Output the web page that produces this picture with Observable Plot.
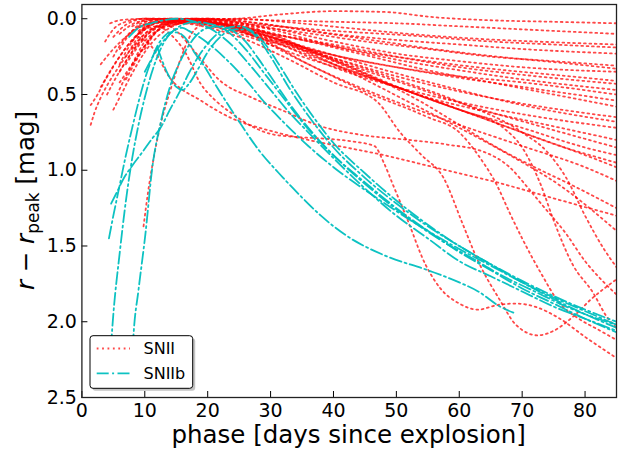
<!DOCTYPE html>
<html><head><meta charset="utf-8">
<script src="https://cdn.jsdelivr.net/npm/d3@7"></script>
<script src="https://cdn.jsdelivr.net/npm/@observablehq/plot@0.6"></script>
<style>body{margin:0;background:#fff;} #chart{width:628px;height:459px;}</style>
</head><body><div id="chart"></div>
<script>
const xTicks = [0, 10, 20, 30, 40, 50, 60, 70, 80];
const yTicks = [0, 0.5, 1, 1.5, 2, 2.5];
const legendLabels = ["SNII", "SNIIb"];

// SNII light curves: [phase, r - r_peak]
const snII = [
  [[8,0.3],[10,0.15],[13,0.06],[18,0.02],[25,0.0],[32,-0.03],[40,-0.05],[48,-0.045],[56,-0.01],[65,0.01],[75,0.02],[85,0.03]],
  [[4.5,0.03],[6,0.01],[10,0],[20,0],[30,0.01],[40,0.02],[50,0.03],[60,0.05],[70,0.07],[85,0.1]],
  [[3.7,0.15],[5,0.07],[7,0.02],[10,0],[18,0.01],[28,0.04],[40,0.08],[52,0.11],[65,0.15],[75,0.17],[85,0.19]],
  [[7,0.25],[9,0.12],[11,0.04],[14,0.01],[20,0],[30,0.04],[40,0.1],[50,0.14],[60,0.17],[70,0.2],[85,0.23]],
  [[3,0.3],[5,0.2],[7,0.12],[9,0.06],[12,0.02],[18,0.01],[25,0.04],[35,0.09],[45,0.15],[55,0.2],[65,0.25],[75,0.28],[85,0.31]],
  [[8,0.2],[10,0.1],[13,0.03],[17,0],[22,0.01],[30,0.06],[40,0.15],[50,0.23],[60,0.28],[70,0.32],[85,0.35]],
  [[1.4,0.57],[2.5,0.5],[4,0.38],[6,0.25],[8,0.14],[10,0.06],[13,0.02],[18,0.02],[25,0.06],[35,0.14],[45,0.22],[55,0.28],[65,0.33],[75,0.37],[85,0.41]],
  [[6,0.2],[8,0.08],[10,0.02],[14,0],[20,0.02],[30,0.1],[40,0.17],[50,0.25],[60,0.32],[70,0.37],[85,0.43]],
  [[7,0.3],[9,0.18],[11,0.08],[14,0.02],[18,0],[24,0.02],[30,0.07],[40,0.18],[50,0.27],[60,0.34],[70,0.4],[85,0.47]],
  [[1.4,0.7],[2,0.62],[3,0.52],[4,0.44],[6,0.31],[8,0.19],[10,0.1],[13,0.04],[17,0.03],[22,0.06],[30,0.14],[40,0.24],[50,0.32],[60,0.39],[70,0.45],[85,0.54]],
  [[5,0.12],[7,0.04],[10,0],[15,0.01],[22,0.05],[30,0.15],[40,0.26],[50,0.38],[60,0.48],[70,0.56],[85,0.65]],
  [[5.6,0.5],[7,0.38],[9,0.24],[11,0.12],[13,0.05],[15,0.02],[18,0.01],[22,0.03],[30,0.12],[40,0.24],[50,0.36],[60,0.47],[70,0.57],[85,0.68]],
  [[5,0.6],[6,0.52],[8,0.36],[10,0.22],[12,0.12],[14,0.06],[17,0.02],[20,0.02],[25,0.06],[30,0.14],[40,0.32],[50,0.45],[60,0.55],[70,0.63],[85,0.72]],
  [[3,0.45],[4.5,0.35],[6,0.25],[8,0.14],[10,0.07],[12,0.03],[16,0.02],[25,0.1],[35,0.25],[45,0.38],[55,0.52],[65,0.62],[75,0.71],[85,0.8]],
  [[6,0.42],[8,0.3],[10,0.18],[12,0.08],[15,0.02],[20,0],[25,0.03],[30,0.1],[40,0.28],[50,0.45],[60,0.6],[70,0.75],[80,0.9],[85,0.98]],
  [[9,0.1],[11,0.03],[14,0],[20,0.02],[28,0.12],[36,0.3],[44,0.45],[52,0.58],[60,0.7],[70,0.84],[80,0.98],[85,1.07]],
  [[6,0.35],[8,0.22],[10,0.12],[13,0.04],[16,0.01],[22,0.03],[30,0.1],[38,0.24],[46,0.38],[54,0.55],[60,0.7],[66,0.85],[72,0.98],[78,1.1],[85,1.25]],
  [[10,0.2],[12,0.08],[15,0.02],[20,0.01],[28,0.08],[36,0.22],[44,0.38],[52,0.55],[60,0.72],[68,0.9],[76,1.1],[85,1.4]],
  [[9.8,1.37],[10.5,1.15],[11.5,0.9],[12.5,0.7],[14,0.48],[15,0.35],[16,0.23],[17,0.13],[18,0.07],[20,0.03],[25,0.05],[30,0.12],[40,0.3],[50,0.45],[60,0.6],[70,0.72],[80,0.85],[85,0.9]],
  [[8,0.15],[10,0.07],[12,0.05],[14,0.1],[16.4,0.22],[18.9,0.43],[21,0.53],[24,0.63],[27,0.71],[30,0.76],[34,0.78],[38,0.79],[43,0.81],[46.5,0.84],[48,0.95],[49.5,1.1],[51.7,1.32],[54.6,1.62],[57,1.78],[60,1.88],[63,1.92],[66,1.89],[69,1.88],[72,1.9],[76,1.98],[80,2.1],[85,2.24]],
  [[6,0.3],[8,0.15],[10,0.06],[13,0.02],[18,0.04],[25,0.12],[32,0.25],[40,0.42],[47,0.55],[50.6,0.75],[54,0.9],[57.5,1.05],[60.5,1.35],[63,1.6],[66.5,1.86],[69,2.02],[72.5,2.09],[75,2.06],[78,1.97],[81,1.85],[85,1.72]],
  [[9,0.05],[12,0.02],[15,0.08],[18,0.22],[22,0.41],[27,0.52],[31.6,0.6],[38,0.71],[45,0.77],[52,0.8],[58,0.83],[64,0.88],[68,0.98],[71,1.12],[73,1.22],[77,1.42],[80,1.6],[83,1.74],[85,1.82]],
  [[7,0.4],[9,0.25],[11,0.12],[14,0.04],[18,0.02],[25,0.08],[35,0.28],[45,0.48],[55,0.65],[60,0.75],[63,0.9],[66,1.1],[68,1.28],[70,1.45],[73,1.68],[76,1.88],[79,1.98],[82,2.05],[85,2.12]],
  [[9,0.08],[12,0.02],[20,0.03],[30,0.15],[40,0.3],[50,0.45],[60,0.6],[67,0.72],[70,0.85],[73,1.1],[75,1.33],[78,1.62],[81.3,1.81],[83.5,1.97],[85,2.04]],
  [[8,0.05],[11,0],[20,0.02],[30,0.12],[40,0.26],[50,0.4],[60,0.55],[70,0.75],[74,0.88],[77,1.05],[80,1.3],[83,1.52],[85,1.64]],
  [[4,0.5],[5,0.42],[7,0.28],[9,0.16],[11,0.08],[14,0.03],[18,0.02],[24,0.05],[32,0.15],[40,0.24],[50,0.32],[60,0.38],[70,0.42],[85,0.5]],
  [[10,0.02],[15,0],[25,0.05],[35,0.14],[45,0.24],[55,0.34],[65,0.42],[75,0.5],[85,0.58]],
  [[12,0.02],[18,0],[26,0.02],[36,0.08],[46,0.14],[56,0.2],[66,0.25],[76,0.29],[85,0.33]],
  [[6,0.1],[9,0.02],[14,0],[22,0.04],[32,0.16],[42,0.3],[52,0.44],[62,0.58],[72,0.7],[85,0.85]],
  [[5,0.25],[7,0.12],[10,0.04],[14,0.01],[20,0.03],[28,0.1],[36,0.2],[44,0.34],[52,0.48],[60,0.6],[68,0.72],[76,0.84],[85,0.95]],
  [[14,0.05],[18,0.01],[25,0],[32,0.02],[42,0.06],[52,0.1],[62,0.13],[72,0.15],[85,0.17]],
  [[9,0.12],[11,0.18],[14,0.39],[18.9,0.54],[24,0.66],[30,0.74],[36,0.8],[42,0.85],[48,0.9],[54,0.96],[60,1.02],[66,1.08],[72,1.15],[78,1.22],[85,1.3]]
];

// SNIIb light curves: [phase, r - r_peak]
const snIIb = [
  [[4.4,2.3],[5,1.95],[6,1.55],[7,1.2],[8,0.92],[9,0.7],[10,0.52],[11,0.37],[12,0.25],[13,0.16],[14,0.1],[15,0.07],[16,0.06],[17,0.08],[20,0.16],[23,0.27],[26,0.4],[29,0.55],[32,0.68],[36,0.84],[40,0.98],[45,1.13],[50,1.27],[55,1.4],[60,1.52],[65,1.63],[70,1.74],[75,1.84],[80,1.93],[85,2.02]],
  [[7.9,2.3],[8.25,2.06],[9,1.79],[10.1,1.42],[11.2,0.98],[12.5,0.69],[14,0.45],[16,0.25],[18,0.12],[20,0.06],[22,0.05],[24,0.08],[26,0.15],[28,0.26],[30,0.38],[33,0.56],[36,0.72],[40,0.9],[45,1.08],[50,1.25],[55,1.4],[60,1.54],[65,1.66],[70,1.78],[75,1.88],[80,1.98],[85,2.07]],
  [[4.3,1.45],[5,1.3],[6,1.1],[7,0.9],[8,0.72],[9,0.55],[10,0.4],[11,0.28],[12,0.18],[13,0.12],[14,0.09],[15,0.09],[16.7,0.14],[18,0.23],[19.4,0.31],[21,0.42],[24.7,0.66],[28,0.86],[32,1.05],[35,1.18],[38,1.3],[42,1.43],[48,1.56],[55,1.66],[60,1.74],[63,1.8],[66.5,1.9],[68.6,1.94]],
  [[4.65,1.22],[5.5,1.15],[6.7,1.05],[8,0.97],[9.8,0.87],[11,0.8],[12.5,0.72],[14,0.6],[15.7,0.47],[17,0.36],[19,0.22],[21,0.12],[23,0.06],[25,0.05],[27,0.08],[29,0.16],[31,0.28],[34,0.48],[37,0.66],[40,0.82],[45,1.02],[50,1.2],[55,1.36],[60,1.5],[65,1.62],[70,1.74],[75,1.85],[80,1.95],[85,2.04]],
  [[12,0.19],[13.5,0.35],[15,0.45],[16,0.47],[17,0.43],[18.5,0.33],[20,0.22],[22,0.12],[24,0.07],[26,0.07],[28,0.13],[30,0.25],[33,0.46],[36,0.64],[40,0.85],[45,1.05],[50,1.22],[55,1.37],[60,1.5],[65,1.62],[70,1.73],[75,1.83],[80,1.92],[85,2.0]],
  [[7.5,0.12],[9,0.06],[11,0.03],[13,0.01],[15,0.0],[18,0.02],[21,0.08],[24,0.18],[27,0.32],[30,0.47],[33,0.62],[36,0.75],[40,0.92],[45,1.12],[50,1.3],[55,1.45],[60,1.6],[65,1.7],[70,1.8],[75,1.9],[80,1.98],[85,2.06]],
  [[10,0.35],[12,0.2],[14,0.1],[16,0.04],[18,0.02],[20,0.03],[23,0.08],[26,0.2],[29,0.36],[32,0.52],[35,0.68],[38,0.82],[42,0.98],[47,1.16],[52,1.32],[57,1.46],[62,1.58],[67,1.7],[72,1.8],[77,1.9],[82,1.98],[85,2.02]]
];

const rows = (curves, type) => curves.flatMap((c, i) => c.map(([phase, mag]) => ({type, id: type + i, phase, mag})));

const W = 628, H = 459, mL = 81.4, mR = 12, mT = 4, mB = 62;
const redStyle = {stroke: "red", strokeOpacity: 0.72, strokeWidth: 1.8, strokeDasharray: "1.8,3.6"};
const cyanStyle = {stroke: "#00bfbf", strokeOpacity: 0.95, strokeWidth: 1.8, strokeDasharray: "12,3.4,2,3.4"};

const plot = Plot.plot({
  width: W, height: H,
  marginLeft: mL, marginRight: mR, marginTop: mT, marginBottom: mB,
  style: {fontFamily: "DejaVu Sans", fontSize: "19px", background: "#fff", color: "#000"},
  x: {domain: [0, 85], label: null},
  y: {domain: [-0.094, 2.5], reverse: true, label: null},
  marks: [
    Plot.line(rows(snII, "SNII"), {x: "phase", y: "mag", z: "id", curve: "monotone-x", clip: true, ...redStyle}),
    Plot.line(rows(snIIb, "SNIIb"), {x: "phase", y: "mag", z: "id", curve: "monotone-x", clip: true, ...cyanStyle}),
    Plot.tickX(xTicks, {x: d => d, insetTop: H - mT - mB - 6, stroke: "#000", strokeWidth: 1}),
    Plot.tickY(yTicks, {y: d => d, insetRight: W - mL - mR - 6, stroke: "#000", strokeWidth: 1}),
    Plot.axisX({ticks: xTicks, tickSize: 0, tickPadding: 6, label: null, fontSize: 19}),
    Plot.axisY({ticks: yTicks, tickSize: 0, tickPadding: 5, label: null, fontSize: 19, tickFormat: d3.format(".1f")}),
    Plot.frame({stroke: "#222", strokeWidth: 1.3})
  ]
});

const svg = d3.select(plot);
// axis labels
svg.append("text")
  .attr("x", (mL + W - mR) / 2).attr("y", 443)
  .attr("text-anchor", "middle").attr("font-size", "24.5px").attr("fill", "#000")
  .text("phase [days since explosion]");
const yl = svg.append("text")
  .attr("transform", `translate(33.5,${(mT + H - mB) / 2}) rotate(-90)`)
  .attr("text-anchor", "middle").attr("font-size", "24.5px").attr("fill", "#000");
yl.append("tspan").attr("font-style", "oblique").text("r");
yl.append("tspan").text(" \u2212 ");
yl.append("tspan").attr("font-style", "oblique").text("r");
yl.append("tspan").attr("font-size", "17px").attr("dy", "5").text("peak");
yl.append("tspan").attr("dy", "-5").text(" [mag]");

// legend
const lg = svg.append("g");
lg.append("rect").attr("x", 92.5).attr("y", 338.2).attr("width", 102.7).attr("height", 52.6).attr("rx", 3)
  .attr("fill", "#888").attr("fill-opacity", 0.5);
lg.append("rect").attr("x", 90).attr("y", 335.7).attr("width", 102.7).attr("height", 52.6).attr("rx", 3)
  .attr("fill", "#fff").attr("stroke", "#000").attr("stroke-width", 1);
const entries = [
  {label: legendLabels[0], y: 348.5, s: redStyle},
  {label: legendLabels[1], y: 373.3, s: cyanStyle}
];
for (const e of entries) {
  lg.append("line").attr("x1", 96.7).attr("x2", 130).attr("y1", e.y).attr("y2", e.y)
    .attr("stroke", e.s.stroke).attr("stroke-opacity", e.s.strokeOpacity)
    .attr("stroke-width", e.s.strokeWidth).attr("stroke-dasharray", e.s.strokeDasharray);
  lg.append("text").attr("x", 143.5).attr("y", e.y).attr("dy", "0.36em")
    .attr("text-anchor", "start")
    .attr("font-size", "16px").attr("fill", "#000").text(e.label);
}

document.getElementById("chart").appendChild(plot);
</script>
</body></html>
